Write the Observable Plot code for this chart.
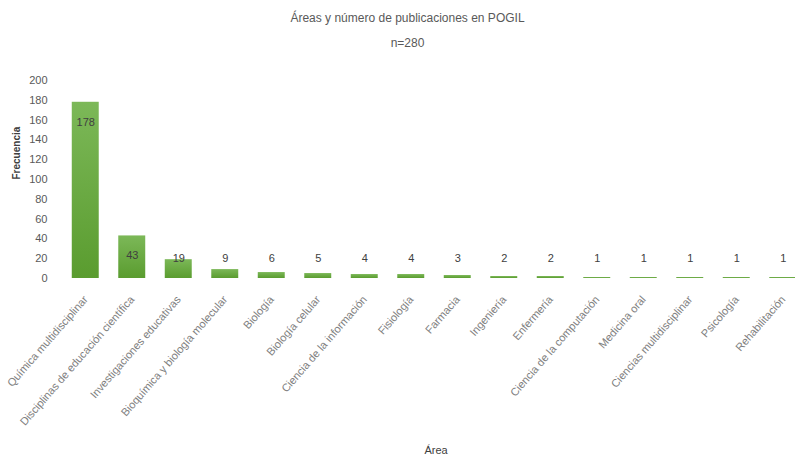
<!DOCTYPE html>
<html>
<head>
<meta charset="utf-8">
<script src="https://cdn.jsdelivr.net/npm/d3@7"></script>
<script src="https://cdn.jsdelivr.net/npm/@observablehq/plot@0.6"></script>
<style>
  html, body { margin: 0; padding: 0; background: #fff; }
  #wrap { position: relative; width: 795px; height: 461px; overflow: hidden; font-family: "Liberation Sans", Arial, sans-serif; }
  .t { position: absolute; left: 10px; width: 795px; text-align: center; color: #595959; font-size: 12px; }
  #chart { position: absolute; left: 0; top: 60px; }
</style>
</head>
<body>
<div id="wrap">
  <div class="t" style="top:11px">Áreas y número de publicaciones en POGIL</div>
  <div class="t" style="top:36px">n=280</div>
  <div id="chart"></div>
</div>
<script>
const areas = ["Química multidisciplinar","Disciplinas de educación científica","Investigaciones educativas","Bioquímica y biología molecular","Biología","Biología celular","Ciencia de la información","Fisiología","Farmacia","Ingeniería","Enfermería","Ciencia de la computación","Medicina oral","Ciencias multidisciplinar","Psicología","Rehabilitación"];
const counts = [178,43,19,9,6,5,4,4,3,2,2,1,1,1,1,1];
const yTicks = [0,20,40,60,80,100,120,140,160,180,200];

const data = areas.map((a, i) => ({area: a, n: counts[i]}));

const chart = Plot.plot({
  width: 795,
  height: 401,
  marginLeft: 62,
  marginRight: 0,
  marginTop: 20,
  marginBottom: 183,
  style: {fontFamily: "'Liberation Sans', Arial, sans-serif", fontSize: "11px", color: "#595959", background: "transparent", overflow: "hidden"},
  x: {domain: areas, range: [62, 806], round: false, paddingInner: 0.42, paddingOuter: 0.21},
  y: {domain: [0, 200]},
  marks: [
    Plot.ruleY(yTicks, {x1: 62, x2: 795, stroke: "#d9d9d9", strokeWidth: 1}),
    Plot.axisY({ticks: yTicks, tickSize: 0, tickPadding: 15, label: null, fontSize: 11}),
    Plot.axisX({tickSize: 0, tickPadding: 19, tickRotate: -49, label: null, fontSize: 11, fill: "#808080"}),
    Plot.barY(data, {x: "area", y: "n", fill: "url(#barGrad)"}),
    Plot.text(data, {x: "area", y: d => Math.max(d.n, 40), dy: 20, text: d => String(d.n), fill: "#404040", fontSize: 11}),
    Plot.text(["Frecuencia"], {frameAnchor: "left", dx: -46, rotate: -90, fontWeight: "bold", fontSize: 10, fill: "#404040"}),
    Plot.text(["Área"], {frameAnchor: "bottom", dy: 175, dx: 7, fontSize: 11, fill: "#404040"})
  ]
});

const defs = d3.select(chart).insert("defs", ":first-child");
const g = defs.append("linearGradient").attr("id", "barGrad").attr("x1", 0).attr("y1", 0).attr("x2", 0).attr("y2", 1);
g.append("stop").attr("offset", "0%").attr("stop-color", "#7cb858");
g.append("stop").attr("offset", "100%").attr("stop-color", "#5a9c2f");

document.getElementById("chart").appendChild(chart);
</script>
</body>
</html>
